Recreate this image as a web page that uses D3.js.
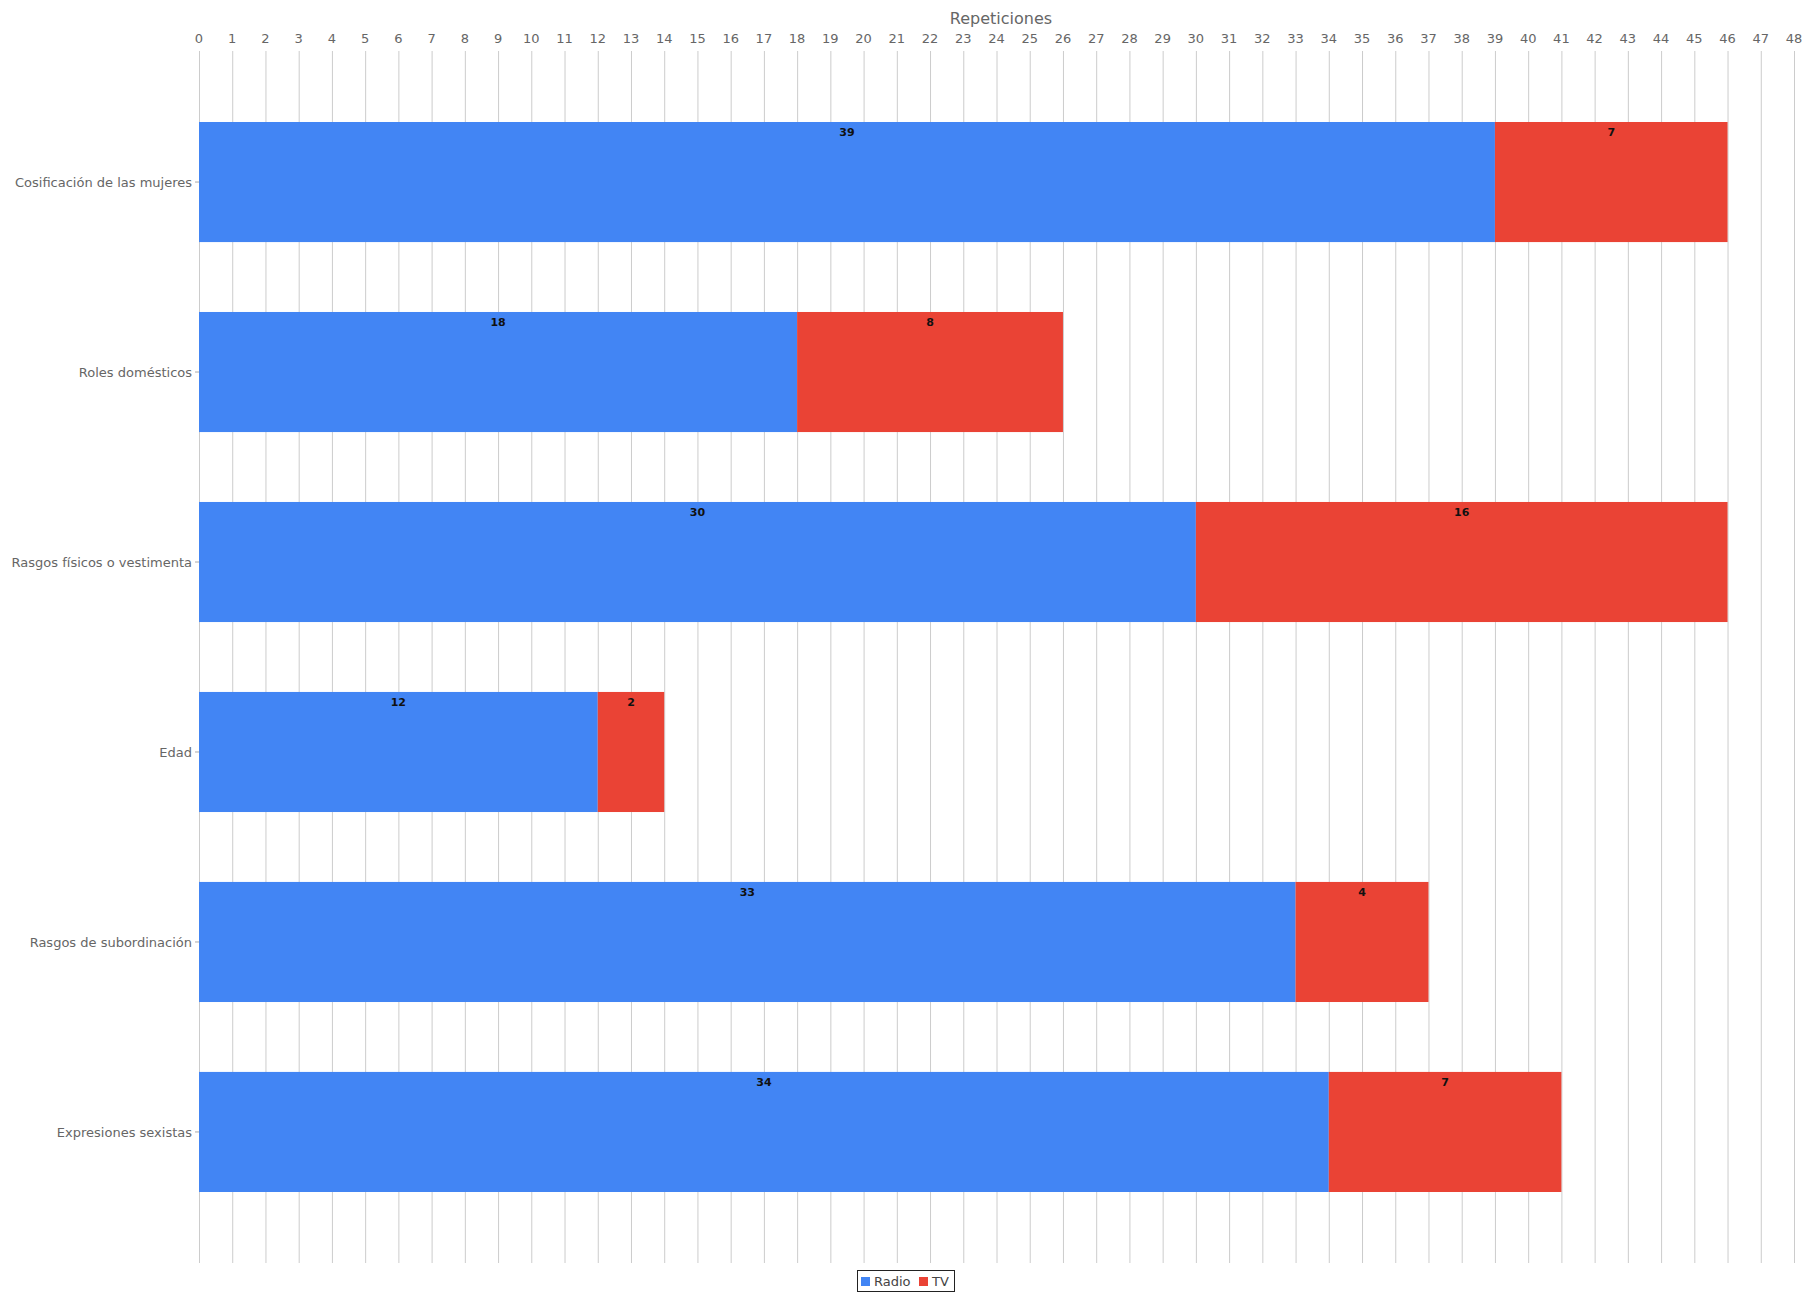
<!DOCTYPE html>
<html><head><meta charset="utf-8">
<script src="https://cdn.jsdelivr.net/npm/d3@7"></script>
<style>body{margin:0;background:#fff;font-family:"DejaVu Sans",sans-serif}</style>
</head><body><svg id="c" width="1814" height="1294"></svg>
<script>
const categories = ["Cosificación de las mujeres","Roles domésticos","Rasgos físicos o vestimenta","Edad","Rasgos de subordinación","Expresiones sexistas"];
const radio = [39,18,30,12,33,34];
const tv = [7,8,16,2,4,7];
const seriesNames = ["Radio","TV"];
const colors = ["#4285f4","#ea4335"];
const xTicks = d3.range(0,49);
const axisTitle = "Repeticiones";

(function(){
const svg = d3.select("#c");
const pL=199, pR=1794, pT=51, pB=1263;
const x = d3.scaleLinear().domain([0,48]).range([pL,pR]);
const y = d3.scaleBand().domain(categories).range([pT,pB]).paddingInner(0.368).paddingOuter(0.3737);

svg.append("g").selectAll("line").data(xTicks).join("line")
  .attr("x1",d=>x(d)+0.5).attr("x2",d=>x(d)+0.5).attr("y1",pT).attr("y2",pB)
  .attr("stroke","#cccccc").attr("stroke-width",1);

svg.append("g").selectAll("text").data(xTicks).join("text")
  .attr("x",d=>x(d)).attr("y",43).attr("text-anchor","middle")
  .attr("font-size",13).attr("fill","#666").text(d=>d);
svg.append("text").attr("x",1001).attr("y",24).attr("text-anchor","middle")
  .attr("font-size",16).attr("fill","#666").text(axisTitle);

const stacked = categories.map((c,i)=>[{c,s:0,x0:0,x1:radio[i],v:radio[i]},{c,s:1,x0:radio[i],x1:radio[i]+tv[i],v:tv[i]}]).flat();
svg.append("g").selectAll("rect").data(stacked).join("rect")
  .attr("x",d=>x(d.x0)).attr("y",d=>y(d.c)).attr("width",d=>x(d.x1)-x(d.x0))
  .attr("height",y.bandwidth()).attr("fill",d=>colors[d.s]);
svg.append("g").selectAll("text").data(stacked).join("text")
  .attr("x",d=>(x(d.x0)+x(d.x1))/2).attr("y",d=>y(d.c)+14).attr("text-anchor","middle")
  .attr("font-size",11).attr("font-weight","bold").attr("fill","#111").text(d=>d.v);

svg.append("g").selectAll("text").data(categories).join("text")
  .attr("x",pL-7).attr("y",d=>y(d)+y.bandwidth()/2+5).attr("text-anchor","end")
  .attr("font-size",13).attr("fill","#666").text(d=>d);
svg.append("g").selectAll("line").data(categories).join("line")
  .attr("x1",pL-4).attr("x2",pL).attr("y1",d=>y(d)+y.bandwidth()/2).attr("y2",d=>y(d)+y.bandwidth()/2)
  .attr("stroke","#aaa");

const lg = svg.append("g");
lg.append("rect").attr("x",857.5).attr("y",1270.5).attr("width",97).attr("height",21).attr("fill","#fff").attr("stroke","#222");
const lx=[861,919];
seriesNames.forEach((n,i)=>{
  lg.append("rect").attr("x",lx[i]).attr("y",1277).attr("width",9).attr("height",9).attr("fill",colors[i]);
  lg.append("text").attr("x",lx[i]+13).attr("y",1286).attr("font-size",13).attr("fill","#444").text(n);
});
})();
</script></body></html>
